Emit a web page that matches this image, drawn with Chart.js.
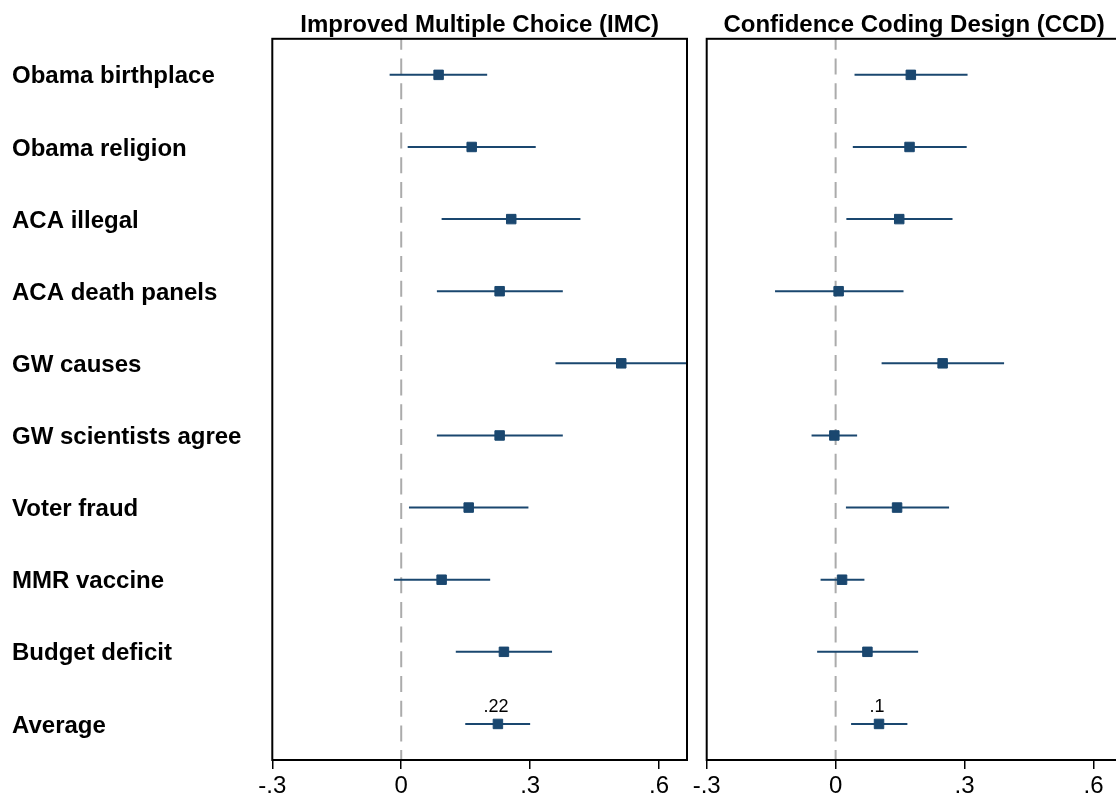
<!DOCTYPE html>
<html>
<head>
<meta charset="utf-8">
<script src="https://cdn.jsdelivr.net/npm/chart.js@4.4.1/dist/chart.umd.min.js"></script>
<style>
  html, body { margin: 0; padding: 0; width: 1116px; height: 797px; overflow: hidden; background: #fff; }
  canvas { position: absolute; top: 0; }
  #imc { left: 0; }
  #ccd { left: 660px; }
</style>
</head>
<body>
<canvas id="imc" width="700" height="797"></canvas>
<canvas id="ccd" width="480" height="797"></canvas>
<script>
// ---- data ----
const categories = ['Obama birthplace', 'Obama religion', 'ACA illegal', 'ACA death panels', 'GW causes',
  'GW scientists agree', 'Voter fraud', 'MMR vaccine', 'Budget deficit', 'Average'];
const panelTitles = ['Improved Multiple Choice (IMC)', 'Confidence Coding Design (CCD)'];

const imcEst = [0.087, 0.164, 0.256, 0.229, 0.512, 0.229, 0.157, 0.094, 0.239, 0.225];
const imcLo  = [-0.027, 0.015, 0.094, 0.083, 0.359, 0.083, 0.018, -0.017, 0.127, 0.149];
const imcHi  = [0.200, 0.313, 0.417, 0.376, 0.665, 0.376, 0.296, 0.207, 0.351, 0.300];

const ccdEst = [0.175, 0.172, 0.148, 0.007, 0.249, -0.003, 0.143, 0.015, 0.074, 0.101];
const ccdLo  = [0.044, 0.040, 0.025, -0.141, 0.107, -0.056, 0.024, -0.035, -0.043, 0.036];
const ccdHi  = [0.307, 0.305, 0.272, 0.158, 0.392, 0.050, 0.264, 0.067, 0.192, 0.167];

const avgLabels = ['.22', '.1'];
const xTickValues = [-0.3, 0, 0.3, 0.6];
const xTickLabels = ['-.3', '0', '.3', '.6'];
const xMin = -0.3, xMax = 0.665;

// ---- styling ----
const FONT = '"Liberation Sans", Arial, Helvetica, sans-serif';
const NAVY = '#1a476f';

const framePlugin = {
  id: 'frameAndZero',
  beforeDatasetsDraw(chart) {
    const {ctx, chartArea: a, scales: {x}} = chart;
    const x0 = x.getPixelForValue(0);
    ctx.save();
    ctx.strokeStyle = '#ababab';
    ctx.lineWidth = 2;
    ctx.setLineDash([16, 8.7]);
    ctx.lineDashOffset = 5;
    ctx.beginPath();
    ctx.moveTo(x0, a.top);
    ctx.lineTo(x0, a.bottom);
    ctx.stroke();
    ctx.restore();
  },
  afterDatasetsDraw(chart, args, opts) {
    const {ctx, chartArea: a, scales: {x, y}} = chart;
    const idx = categories.length - 1;
    const px = x.getPixelForValue(opts.avgValue);
    const py = y.getPixelForValue(idx);
    ctx.save();
    ctx.fillStyle = '#000';
    ctx.font = '18px ' + FONT;
    ctx.textAlign = 'center';
    ctx.textBaseline = 'alphabetic';
    ctx.fillText(opts.avgLabel, px - 2, py - 12);
    ctx.strokeStyle = '#000';
    ctx.lineWidth = 2;
    ctx.strokeRect(a.left, a.top, a.right - a.left, a.bottom - a.top);
    ctx.restore();
  }
};

function makeChart(canvasId, title, est, lo, hi, avgLabel, showY, padding) {
  const datasets = [{
    type: 'scatter',
    data: est.map((v, i) => ({x: v, y: categories[i]})),
    pointStyle: 'rect',
    pointRadius: 6.7,
    pointHoverRadius: 6.7,
    backgroundColor: NAVY,
    borderColor: NAVY,
    borderWidth: 1
  }];
  categories.forEach((c, i) => {
    datasets.push({
      type: 'line',
      data: [{x: lo[i], y: c}, {x: hi[i], y: c}],
      borderColor: NAVY,
      borderWidth: 2,
      pointRadius: 0,
      pointHoverRadius: 0,
      clip: 0
    });
  });
  return new Chart(document.getElementById(canvasId), {
    type: 'scatter',
    data: {datasets},
    plugins: [framePlugin],
    options: {
      responsive: false,
      animation: false,
      events: [],
      layout: {padding},
      plugins: {
        legend: {display: false},
        tooltip: {enabled: false},
        title: {
          display: true,
          text: title,
          fullSize: false,
          color: '#000',
          font: {family: FONT, size: 24, weight: 'bold'},
          padding: {top: 11, bottom: -1}
        },
        frameAndZero: {avgLabel, avgValue: est[est.length - 1]}
      },
      scales: {
        x: {
          type: 'linear',
          min: xMin,
          max: xMax,
          afterBuildTicks: s => { s.ticks = xTickValues.map(v => ({value: v})); },
          afterFit: s => { s.height = 37; },
          ticks: {
            callback: v => xTickLabels[xTickValues.indexOf(v)],
            color: '#000',
            font: {family: FONT, size: 24},
            padding: 3,
            maxRotation: 0,
            autoSkip: false
          },
          grid: {display: true, drawOnChartArea: false, drawTicks: true, tickLength: 9, color: '#000', lineWidth: 1.5},
          border: {display: false}
        },
        y: {
          type: 'category',
          labels: categories,
          offset: true,
          display: showY,
          afterFit: s => { s.width = showY ? 260.3 : 0; },
          grid: {display: false},
          border: {display: false},
          ticks: {
            color: '#000',
            font: {family: FONT, size: 24, weight: 'bold'},
            crossAlign: 'far',
            padding: 0,
            labelOffset: 2,
            autoSkip: false
          }
        }
      }
    }
  });
}

makeChart('imc', panelTitles[0], imcEst, imcLo, imcHi, avgLabels[0], true, {left: 12, right: 13, top: 0, bottom: 0});
makeChart('ccd', panelTitles[1], ccdEst, ccdLo, ccdHi, avgLabels[1], false, {left: 46.7, right: 18.6, top: 0, bottom: 0});
</script>
</body>
</html>
